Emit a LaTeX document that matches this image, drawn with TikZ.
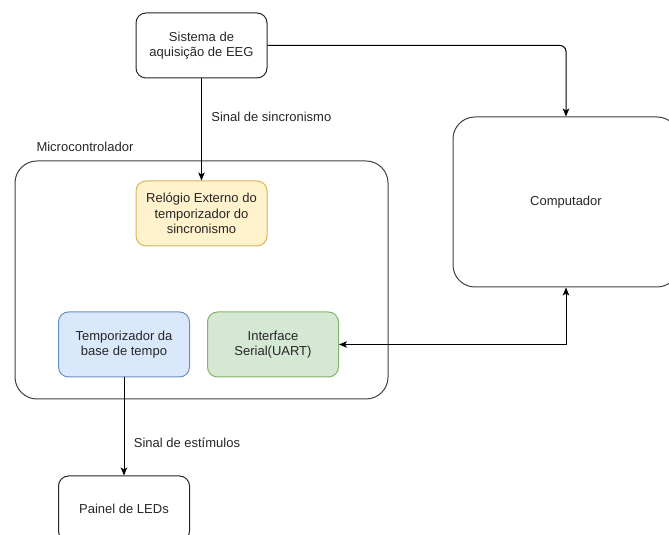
\documentclass[tikz,border=0pt]{standalone}
\usepackage{fontspec}
\setmainfont{Liberation Sans}
\usetikzlibrary{arrows.meta,positioning}
\definecolor{ylwfill}{HTML}{FFF2CC}\definecolor{ylwline}{HTML}{D6B656}
\definecolor{bluefill}{HTML}{DAE8FC}\definecolor{blueline}{HTML}{6C8EBF}
\definecolor{grnfill}{HTML}{D5E8D4}\definecolor{grnline}{HTML}{82B366}

\begin{document}
\begin{tikzpicture}[x=1pt,y=1pt,every node/.style={font=\fontsize{13}{15.5}\selectfont,text=black!85},
 blk/.style={draw=black!85,line width=1pt,rounded corners=10pt,minimum width=131pt,minimum height=65pt,align=center},
 big/.style={draw=black!75,line width=1pt,rounded corners=22pt},
 conn/.style={line width=1pt,-{Stealth[length=8pt,width=6.5pt,inset=2pt]}},
 dconn/.style={line width=1pt,{Stealth[length=8pt,width=6.5pt,inset=2pt]}-{Stealth[length=8pt,width=6.5pt,inset=2pt]}}]
\useasboundingbox (0,0) rectangle (669,535);
\node[big,minimum width=373pt,minimum height=238pt] (micro) at (201.5,255) {};
\node[anchor=west] (mclab) at (33,388) {Microcontrolador};
\node[blk] (sae) at (201.5,489.5) {Sistema de\\aquisição de EEG};
\node[big,minimum width=226pt,minimum height=170pt] (comp) at (566,333) {Computador};
\node[blk,fill=ylwfill,draw=ylwline] (rel) at (201.5,321.5) {Relógio Externo do\\temporizador do\\sincronismo};
\node[blk,fill=bluefill,draw=blueline] (temp) at (124,190.5) {Temporizador da\\base de tempo};
\node[blk,fill=grnfill,draw=grnline] (uart) at (273,190.5) {Interface\\Serial(UART)};
\node[blk] (leds) at (124,26.5) {Painel de LEDs};
\draw[conn] (sae) -- node[right=6pt,pos=0.38] (lsync) {Sinal de sincronismo} (rel);
\draw[conn,rounded corners=6pt] (sae.east) -| (comp.north);
\draw[dconn] (uart.east) -| (comp.south);
\draw[conn] (temp) -- node[right=6pt,pos=0.67] (lstim) {Sinal de estímulos} (leds);
\end{tikzpicture}
\end{document}
